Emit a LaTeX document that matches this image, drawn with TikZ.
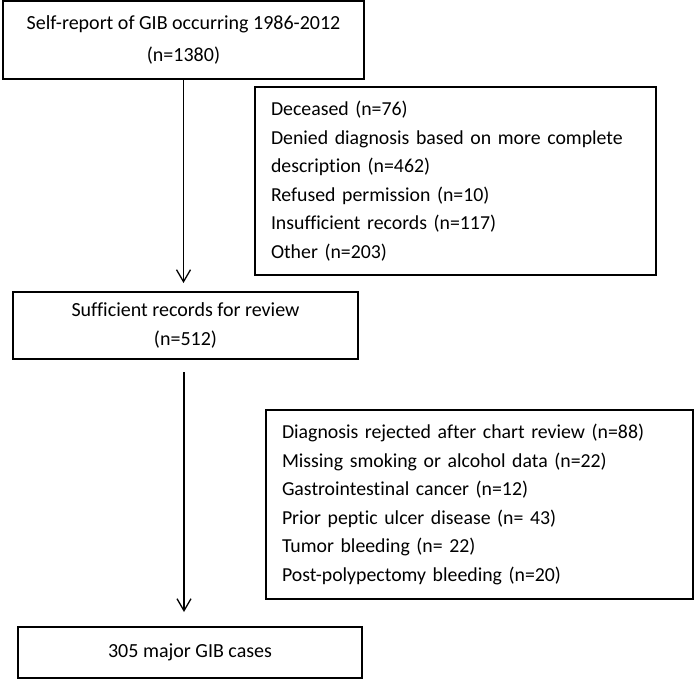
\documentclass[tikz,border=0pt]{standalone}
\usepackage{fontspec}
\setmainfont{Carlito}[Ligatures=NoCommon]
\usetikzlibrary{arrows.meta}
\begin{document}
\begin{tikzpicture}[x=1pt,y=-1pt,
  box/.style={draw=black, line width=1.8pt, inner sep=0pt, font=\fontsize{20}{32}\selectfont},
  listbox/.style={draw=black, line width=1.6pt, inner xsep=16pt, inner ysep=0pt, align=left, font=\fontsize{19.8}{28.5}\selectfont},
  flow/.style={line width=1.3pt, -{Straight Barb[length=12pt,width=14pt,line width=1.3pt]}}]
\useasboundingbox (0,0) rectangle (698,680);
\node[box, minimum width=361pt, minimum height=78pt, align=center] (b1) at (183.5,40) {Self-report of GIB occurring 1986-2012\\(n=1380)};
\node[listbox, text width=369pt, minimum height=188pt] (ex1) at (455.5,181) {Deceased (n=76)\\Denied diagnosis based on more complete\\description (n=462)\\Refused permission (n=10)\\Insufficient records (n=117)\\Other (n=203)};
\node[box, minimum width=345pt, minimum height=67pt, align=center, font=\fontsize{20}{29}\selectfont] (b2) at (185.5,325.5) {Sufficient records for review\\(n=512)};
\node[listbox, text width=395pt, minimum height=189pt] (ex2) at (479.5,504.5) {Diagnosis rejected after chart review (n=88)\\Missing smoking or alcohol data (n=22)\\Gastrointestinal cancer (n=12)\\Prior peptic ulcer disease (n= 43)\\Tumor bleeding (n= 22)\\Post-polypectomy bleeding (n=20)};
\node[box, minimum width=344pt, minimum height=51pt] (b3) at (190,652.5) {305 major GIB cases};
\coordinate (t1) at (183.5,283);
\coordinate (s2) at (184,372);
\coordinate (t2) at (184,612);
\draw[flow] (b1.south) -- (t1);
\draw[flow] (s2) -- (t2);
\end{tikzpicture}
\end{document}
